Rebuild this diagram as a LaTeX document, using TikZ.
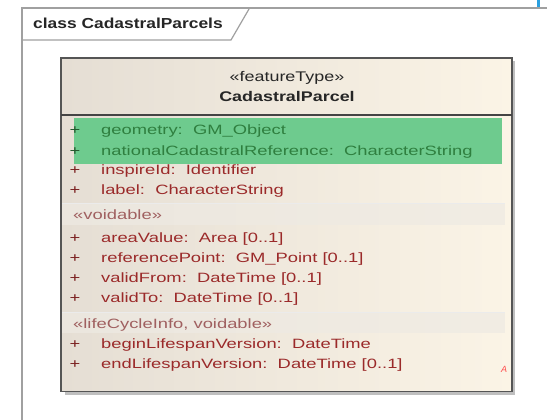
\documentclass[tikz,border=0pt]{standalone}
\usepackage{fontspec}
\setmainfont{Liberation Sans}
\newfontfamily\attrfont[FakeStretch=1.36]{Liberation Sans}
\newfontfamily\hdrfont[FakeStretch=1.28]{Liberation Sans}
\newfontfamily\titlefont[FakeStretch=1.2]{Liberation Sans}
\definecolor{framegray}{HTML}{A0A0A0}
\definecolor{boxborder}{HTML}{555555}
\definecolor{attrred}{HTML}{9B2A2A}
\definecolor{stereored}{HTML}{A06060}
\definecolor{attrgreen}{HTML}{2F7F3F}
\definecolor{bandgreen}{HTML}{6ECB8E}
\definecolor{boxleft}{HTML}{E5DED4}
\definecolor{boxright}{HTML}{FBF4E6}
\definecolor{sectband}{HTML}{EEEAE3}
\definecolor{bluemark}{HTML}{2AA0E0}
\begin{document}
\begin{tikzpicture}[x=1pt,y=-1pt,
  attr/.style={anchor=base west,inner sep=0pt,font=\attrfont\fontsize{13.5}{15}\selectfont,text=attrred},
  gattr/.style={attr,text=attrgreen},
  plus/.style={anchor=base,inner sep=0pt,font=\attrfont\fontsize{13.5}{15}\selectfont,text=attrred!80!black},
  stereo/.style={anchor=base west,inner sep=0pt,font=\attrfont\fontsize{13.5}{15}\selectfont,text=stereored},
  hdr/.style={anchor=base,inner sep=0pt,font=\hdrfont\fontsize{14}{16}\selectfont,text=black!85}]
\useasboundingbox (0,0) rectangle (547,420);
\fill[white] (0,0) rectangle (547,420);
% blue mark
\fill[bluemark] (536.5,0) rectangle (539.5,8);
% frame
\draw[framegray,line width=1.4pt] (22,420) -- (22,8) -- (547,8);
\draw[framegray,line width=1.2pt] (22,40) -- (231,40) -- (249,9);
\node[anchor=base west,inner sep=0pt,font=\titlefont\bfseries\fontsize{14.5}{16}\selectfont,text=black!85] (title) at (33,29) {class CadastralParcels};
% shadow
\fill[black!25] (64.5,61.5) rectangle (515,395);
% class box
\shade[left color=boxleft,right color=boxright] (61,58) rectangle (512,391.5);
\fill[sectband,opacity=0.7] (62,203) rectangle (505,225);
\fill[sectband,opacity=0.7] (62,312) rectangle (505,333);
\draw[black!8] (62,203) -- (505,203);
\draw[black!8] (62,312) -- (505,312);
\fill[bandgreen] (74,118) rectangle (502,164);
\draw[boxborder,line width=1.3pt] (61,58) rectangle (512,391.5);
\draw[boxborder!80!black,line width=1.3pt] (61,115) -- (512,115);
% header
\node[hdr] (st) at (287,82) {«featureType»};
\node[hdr,font=\hdrfont\bfseries\fontsize{14}{16}\selectfont] (cn) at (287,102) {CadastralParcel};
% attributes
\node[plus,text=attrgreen!70!black] (p1) at (75,135) {+};
\node[gattr] (a1) at (101,135) {geometry:\ \ GM\_Object};
\node[plus,text=attrgreen!70!black] (p2) at (75,155) {+};
\node[gattr] (a2) at (101,155) {nationalCadastralReference:\ \ CharacterString};
\node[plus] (p3) at (75,175) {+};
\node[attr] (a3) at (101,175) {inspireId:\ \ Identifier};
\node[plus] (p4) at (75,194) {+};
\node[attr] (a4) at (101,194) {label:\ \ CharacterString};
\node[stereo] (s1) at (73,219) {«voidable»};
\node[plus] (p5) at (75,242) {+};
\node[attr] (a5) at (101,242) {areaValue:\ \ Area [0..1]};
\node[plus] (p6) at (75,262) {+};
\node[attr] (a6) at (101,262) {referencePoint:\ \ GM\_Point [0..1]};
\node[plus] (p7) at (75,282) {+};
\node[attr] (a7) at (101,282) {validFrom:\ \ DateTime [0..1]};
\node[plus] (p8) at (75,302) {+};
\node[attr] (a8) at (101,302) {validTo:\ \ DateTime [0..1]};
\node[stereo] (s2) at (73,328) {«lifeCycleInfo, voidable»};
\node[plus] (p9) at (75,348) {+};
\node[attr] (a9) at (101,348) {beginLifespanVersion:\ \ DateTime};
\node[plus] (p10) at (75,368) {+};
\node[attr] (a10) at (101,368) {endLifespanVersion:\ \ DateTime [0..1]};
\node[anchor=base,inner sep=0pt,font=\itshape\fontsize{9}{10}\selectfont,text=red!70!white] (abs) at (504,372) {A};
\end{tikzpicture}
\end{document}
